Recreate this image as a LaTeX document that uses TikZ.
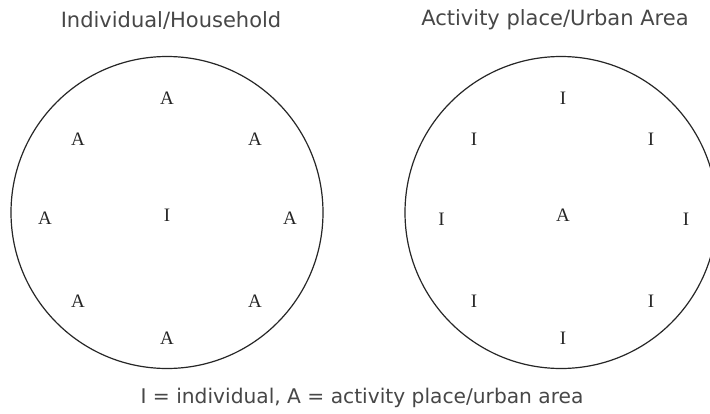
\documentclass[tikz,border=0pt]{standalone}
\usepackage{fontspec}
\setmainfont{Liberation Serif}
\newfontfamily\titlefont{DejaVu Sans}
\begin{document}
\begin{tikzpicture}[x=1pt,y=-1pt]
\tikzset{
  ring/.style={draw=black!85, circle, minimum size=312pt, line width=1.2pt, inner sep=0pt},
  lab/.style={inner sep=0pt, font=\fontsize{19}{19}\selectfont, text=black!85},
  ttl/.style={inner sep=0pt, font=\titlefont\fontsize{21}{21}\selectfont, text=black!72},
  captxt/.style={inner sep=0pt, font=\titlefont\fontsize{20.2}{20.2}\selectfont, text=black!72}
}
\useasboundingbox (0,0) rectangle (710,413);
\clip (0,0) rectangle (710,413);
\fill[white] (0,0) rectangle (710,413);
% titles
\node[ttl] (t1) at (171,20) {Individual/Household};
\node[ttl] (t2) at (555,20) {Activity place/Urban Area};
\node[captxt] (cap) at (362,398) {I = individual, A = activity place/urban area};
% circles
\node[ring] (L) at (167,212.5) {};
\node[ring] (R) at (561,212.5) {};
% left labels
\node[lab] (l1) at (167,98) {A};
\node[lab] (l2) at (78,139) {A};
\node[lab] (l3) at (255,139) {A};
\node[lab] (l4) at (45,218) {A};
\node[lab] (l5) at (167,215) {I};
\node[lab] (l6) at (290,218) {A};
\node[lab] (l7) at (78,301) {A};
\node[lab] (l8) at (255,301) {A};
\node[lab] (l9) at (167,338) {A};
% right labels
\node[lab] (r1) at (563,98) {I};
\node[lab] (r2) at (474,139) {I};
\node[lab] (r3) at (651,139) {I};
\node[lab] (r4) at (441.5,219) {I};
\node[lab] (r5) at (563,215) {A};
\node[lab] (r6) at (686,219) {I};
\node[lab] (r7) at (474,301) {I};
\node[lab] (r8) at (651,301) {I};
\node[lab] (r9) at (563,338) {I};
\end{tikzpicture}
\end{document}
